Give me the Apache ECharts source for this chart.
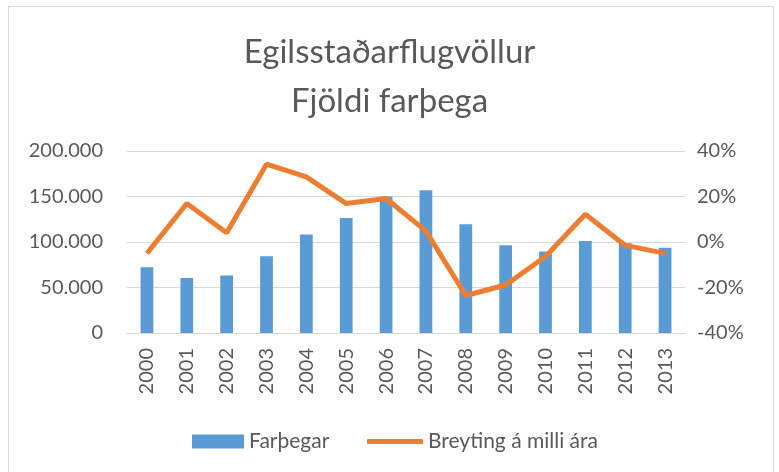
<!DOCTYPE html>
<html>
<head>
<meta charset="utf-8">
<script src="https://cdn.jsdelivr.net/npm/echarts@6/dist/echarts.min.js"></script>
<style>
  html, body { margin: 0; padding: 0; background: #fff; }
  #main { width: 779px; height: 472px; }
  #frame { position: absolute; left: 8px; top: 6px; width: 764px; height: 480px; border: 1px solid #d9d9d9; pointer-events: none; }
</style>
</head>
<body>
<div id="main"></div>
<div id="frame"></div>
<script>
var years = ['2000', '2001', '2002', '2003', '2004', '2005', '2006', '2007', '2008', '2009', '2010', '2011', '2012', '2013'];
var farthegar = [72300, 60500, 63200, 84400, 108300, 126300, 150100, 157000, 119600, 96500, 89600, 101000, 98700, 93600];
var breyting = [-5.0, 16.9, 4.1, 34.2, 28.6, 16.9, 19.1, 4.8, -23.5, -18.9, -6.4, 12.2, -1.5, -5.0];

var myChart = echarts.init(document.getElementById('main'));
var font = 'Lato';
var grey = '#595959';

function thousands(v) {
  return String(v).replace(/\B(?=(\d{3})+(?!\d))/g, '.');
}

var option = {
  animation: false,
  title: {
    text: 'Egilsstaðarflugvöllur\nFjöldi farþega',
    left: 'center',
    top: 23,
    textStyle: { fontFamily: font, fontSize: 33, fontWeight: 'normal', color: grey, lineHeight: 49 }
  },
  legend: [
    {
      data: ['Farþegar'],
      left: 187,
      top: 426,
      icon: 'rect',
      itemWidth: 52,
      itemHeight: 14,
      itemGap: 6,
      textStyle: { fontFamily: font, fontSize: 21, color: grey }
    },
    {
      data: ['Breyting á milli ára'],
      left: 362,
      top: 426,
      icon: 'roundRect',
      itemWidth: 56,
      itemHeight: 5,
      textStyle: { fontFamily: font, fontSize: 21, color: grey }
    }
  ],
  grid: { left: 127, right: 94, top: 151, bottom: 139 },
  xAxis: {
    type: 'category',
    data: years,
    axisLine: { lineStyle: { color: '#d9d9d9' } },
    axisTick: { show: false },
    axisLabel: { rotate: 90, fontFamily: font, fontSize: 20, color: grey, margin: 15 }
  },
  yAxis: [
    {
      type: 'value',
      min: 0,
      max: 200000,
      interval: 50000,
      axisLine: { show: false },
      axisTick: { show: false },
      splitLine: { lineStyle: { color: '#d9d9d9', width: 1 } },
      axisLabel: { fontFamily: font, fontSize: 20, color: grey, margin: 24, formatter: thousands }
    },
    {
      type: 'value',
      min: -40,
      max: 40,
      interval: 20,
      axisLine: { show: false },
      axisTick: { show: false },
      splitLine: { show: false },
      axisLabel: { fontFamily: font, fontSize: 20, color: grey, margin: 12, formatter: '{value}%' }
    }
  ],
  series: [
    {
      name: 'Farþegar',
      type: 'bar',
      data: farthegar,
      barWidth: '32%',
      itemStyle: { color: '#5B9BD5' }
    },
    {
      name: 'Breyting á milli ára',
      type: 'line',
      yAxisIndex: 1,
      data: breyting,
      symbol: 'none',
      lineStyle: { color: '#ED7D31', width: 5 },
      itemStyle: { color: '#ED7D31' }
    }
  ]
};

myChart.setOption(option);
</script>
</body>
</html>
